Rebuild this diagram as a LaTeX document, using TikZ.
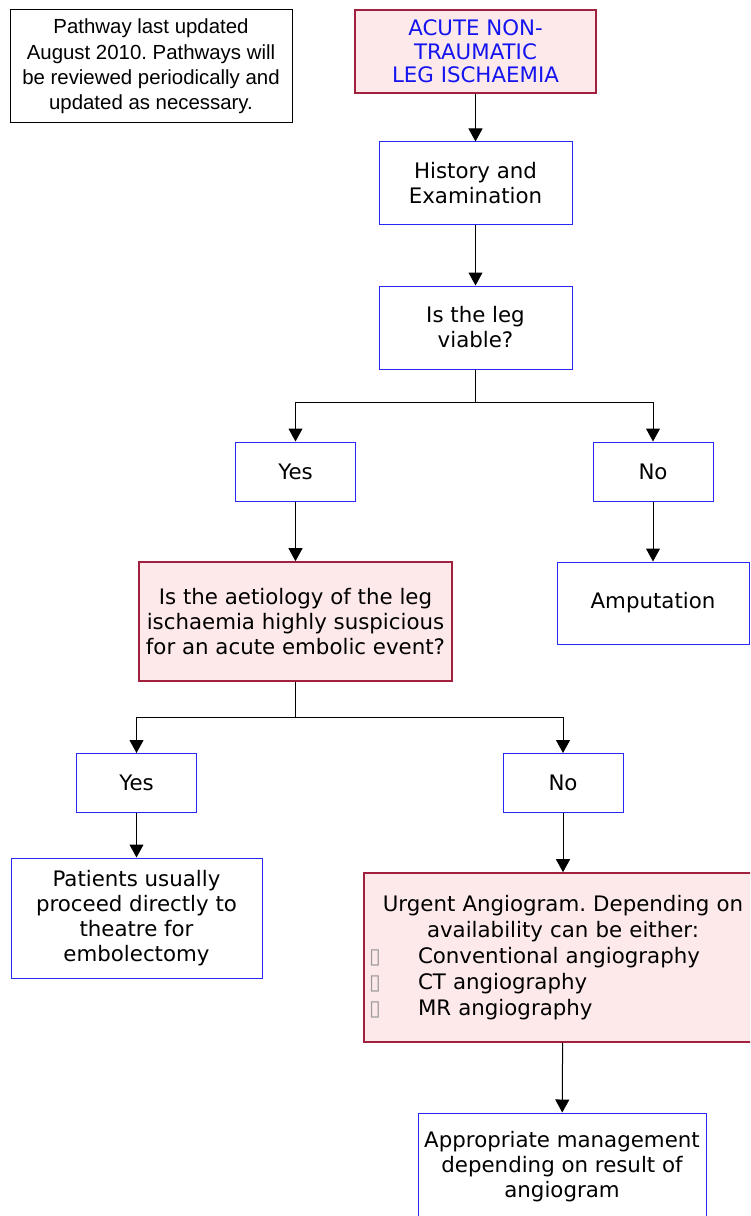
\documentclass[tikz,border=0pt]{standalone}
\usepackage{fontspec}
\setmainfont{DejaVu Sans}
\newfontfamily\notefont{Liberation Sans}
\usetikzlibrary{arrows.meta}
\definecolor{boxblue}{RGB}{40,40,245}
\definecolor{boxred}{RGB}{160,32,62}
\definecolor{boxpink}{RGB}{253,233,234}
\definecolor{titleblue}{RGB}{20,20,240}
\newcommand{\bul}{\makebox[36.75pt][l]{\textcolor{gray!80}{\fontsize{16}{16}\selectfont ▯}}}
\frenchspacing

\begin{document}
\begin{tikzpicture}[x=0.75pt,y=-0.75pt]
\tikzstyle{every node}+=[inner sep=0pt, font=\fontsize{16}{18.75}\selectfont, align=center]
\tikzstyle{bluebox}=[draw=boxblue, line width=0.75pt, rectangle]
\tikzstyle{redbox}=[draw=boxred, fill=boxpink, line width=1.2pt, rectangle]
\tikzstyle{yesno}=[bluebox, minimum width=90pt, minimum height=44.25pt]
\tikzstyle{arr}=[-{Triangle[length=9.75pt,width=10.5pt]}, line width=0.75pt]
\useasboundingbox (0,0) rectangle (750,1216);
\clip (0,0) rectangle (750,1216);
% note and title
\node [draw=black, line width=0.75pt, minimum width=211.5pt, minimum height=84.75pt, font=\notefont\fontsize{15.3}{19}\selectfont] (note) at (151,66.5) {Pathway last updated\\August 2010. Pathways will\\be reviewed periodically and\\updated as necessary.};
\node [redbox, minimum width=180.75pt, minimum height=62.25pt, text=titleblue, font=\fontsize{16}{17.6}\selectfont] (title) at (475.5,51.5) {ACUTE NON-\\TRAUMATIC\\LEG ISCHAEMIA};
% assessment
\node [bluebox, minimum width=144.75pt, minimum height=62.25pt] (hist) at (475.5,183.5) {History and\\Examination};
\node [bluebox, minimum width=144.75pt, minimum height=62.25pt] (viable) at (475.5,327.5) {Is the leg\\viable?};
\node [yesno] (yes1) at (295.5,471.5) {Yes};
\node [yesno] (no1) at (653,471.5) {No};
\node [redbox, minimum width=234.75pt, minimum height=89.25pt] (aet) at (295.5,621.5) {Is the aetiology of the leg\\ischaemia highly suspicious\\for an acute embolic event?};
\node [bluebox, minimum width=144pt, minimum height=61.5pt] (amp) at (653,603) {Amputation};
% embolic or not
\node [yesno] (yes2) at (136.5,783) {Yes};
\node [yesno] (no2) at (563,783) {No};
\node [bluebox, minimum width=188.25pt, minimum height=90pt] (pat) at (136.5,918) {Patients usually\\proceed directly to\\theatre for\\embolectomy};
\node [redbox, minimum width=298.5pt, minimum height=126.75pt, text width=291pt, align=left, font=\fontsize{16}{19.5}\selectfont] (urg) at (563,957.5) {\centering Urgent Angiogram. Depending on\\availability can be either:\par\raggedright\bul Conventional angiography\\\bul CT angiography\\\bul MR angiography};
\node [bluebox, minimum width=216pt, minimum height=80.25pt] (appr) at (562,1166.5) {Appropriate management\\depending on result of\\angiogram};
% connectors
\coordinate (split1) at (475.5,402);
\coordinate (split2) at (295.5,717);
\draw [arr] (title) -- (hist);
\draw [arr] (hist) -- (viable);
\draw [line width=0.75pt] (viable) -- (split1);
\draw [arr] (split1) -| (yes1);
\draw [arr] (split1) -| (no1);
\draw [arr] (yes1) -- (aet);
\draw [arr] (no1) -- (amp);
\draw [line width=0.75pt] (aet) -- (split2);
\draw [arr] (split2) -| (yes2);
\draw [arr] (split2) -| (no2);
\draw [arr] (yes2) -- (pat);
\draw [arr] (no2) -- (urg);
\draw [arr] (urg) -- (appr);
\end{tikzpicture}
\end{document}
